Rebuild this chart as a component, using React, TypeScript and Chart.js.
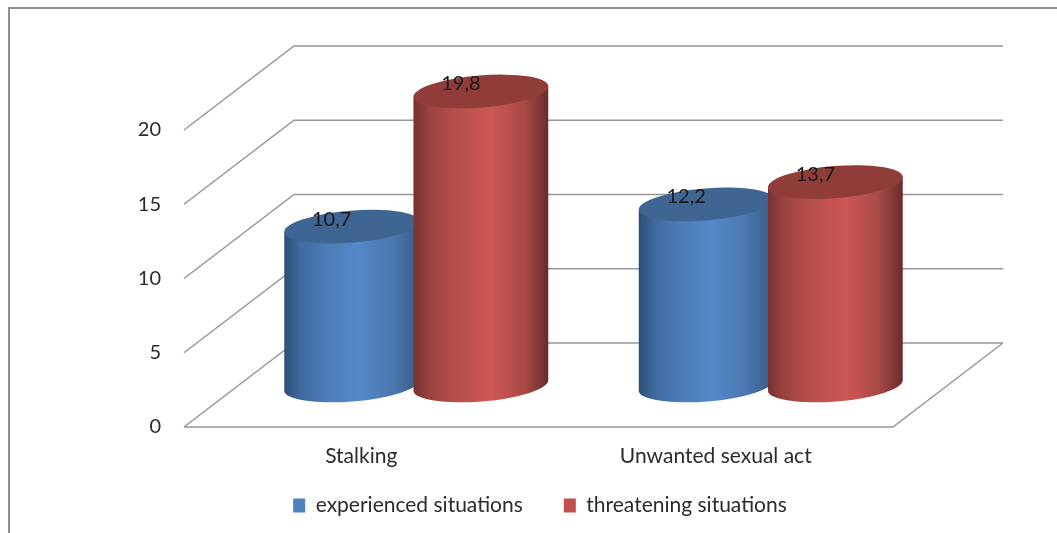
import React, { useEffect, useRef } from "react";
import { Chart, registerables, BarController, BarElement } from "chart.js";

const categories = ["Stalking", "Unwanted sexual act"];
const seriesNames = ["experienced situations", "threatening situations"];
const experienced = [10.7, 12.2];
const threatening = [19.8, 13.7];
const seriesColors = ["#4f81bd", "#c0504d"];
const FONT = "Lato, 'Open Sans', sans-serif";

const DEPTH_X = 110;
const DEPTH_Y = 84;
const GRID = "#979797";
const TEXT = "#2b2b2b";

const shades: Record<string, { stops: [number, string][]; top: string }> = {
  "#4f81bd": {
    stops: [
      [0, "#2d4f78"],
      [0.12, "#3f6a9e"],
      [0.3, "#4c7cb6"],
      [0.55, "#5488ca"],
      [0.8, "#4a78b0"],
      [0.95, "#3c628f"],
      [1, "#34557d"],
    ],
    top: "#3f6592",
  },
  "#c0504d": {
    stops: [
      [0, "#773230"],
      [0.12, "#9a4341"],
      [0.3, "#b64e4b"],
      [0.58, "#cd5755"],
      [0.82, "#a84a47"],
      [0.95, "#7c3432"],
      [1, "#652b29"],
    ],
    top: "#903d3a",
  },
};

class CylinderElement extends BarElement {
  static id = "cylinder";
  draw(ctx: CanvasRenderingContext2D) {
    const { x, y, base, width } = (this as any).getProps(["x", "y", "base", "width"]);
    const style = shades[(this as any).options.backgroundColor];
    const cx = x + DEPTH_X / 2;
    const topY = y - DEPTH_Y / 2 + 0.5;
    const baseY = base - DEPTH_Y / 2 + 0.5;
    const a = width / 2 + 3;
    const b = 16;
    const tilt = (-4.6 * Math.PI) / 180;
    const ex = a * Math.cos(tilt);
    const ey = a * Math.sin(tilt);
    const grad = ctx.createLinearGradient(cx - a, 0, cx + a, 0);
    style.stops.forEach(([p, c]) => grad.addColorStop(p, c));
    ctx.save();
    ctx.beginPath();
    ctx.moveTo(cx - ex, topY - ey);
    ctx.lineTo(cx - ex, baseY - ey);
    ctx.ellipse(cx, baseY, a, b, tilt, Math.PI, 0, true);
    ctx.lineTo(cx + ex, topY + ey);
    ctx.closePath();
    ctx.fillStyle = grad;
    ctx.fill();
    ctx.beginPath();
    ctx.ellipse(cx, topY, a, b, tilt, 0, Math.PI * 2);
    ctx.fillStyle = style.top;
    ctx.fill();
    ctx.restore();
  }
}

class CylinderController extends BarController {
  static id = "cylinderBar";
  static defaults = { ...BarController.defaults, dataElementType: "cylinder" };
  static overrides = BarController.overrides;
}

Chart.register(...registerables, CylinderElement, CylinderController);

const scenePlugin = {
  id: "scene",
  afterLayout(chart: any) {
    const lg = chart.legend;
    if (!lg) return;
    const d = 540 - (lg.left + lg.right) / 2;
    lg.left += d;
    lg.right += d;
    lg.top = 504 - 41 - 12 + 3;
  },
  beforeDraw(chart: any) {
    const { ctx, width, height } = chart;
    ctx.save();
    ctx.fillStyle = "#ffffff";
    ctx.fillRect(0, 0, width, height);
    ctx.strokeStyle = "#8f8f8f";
    ctx.lineWidth = 2;
    ctx.beginPath();
    ctx.moveTo(9, height);
    ctx.lineTo(9, 8);
    ctx.lineTo(width, 8);
    ctx.stroke();
    ctx.restore();
  },
  beforeDatasetsDraw(chart: any) {
    const { ctx, chartArea, scales } = chart;
    const yS = scales.y;
    ctx.save();
    ctx.strokeStyle = GRID;
    ctx.lineWidth = 1.5;
    yS.ticks.forEach((t: any) => {
      const py = yS.getPixelForValue(t.value);
      ctx.beginPath();
      ctx.moveTo(chartArea.left, py);
      ctx.lineTo(chartArea.left + DEPTH_X, py - DEPTH_Y);
      ctx.lineTo(chartArea.right + DEPTH_X, py - DEPTH_Y);
      ctx.stroke();
    });
    const p0 = yS.getPixelForValue(0);
    ctx.beginPath();
    ctx.moveTo(chartArea.left, p0);
    ctx.lineTo(chartArea.right, p0);
    ctx.lineTo(chartArea.right + DEPTH_X, p0 - DEPTH_Y);
    ctx.stroke();
    ctx.restore();
    chart.data.datasets.forEach((_: any, i: number) => chart.getDatasetMeta(i).controller.draw());
    return false;
  },
  afterDraw(chart: any) {
    const { ctx } = chart;
    ctx.save();
    ctx.font = `20px ${FONT}`;
    ctx.fillStyle = "#1a1a1a";
    ctx.textAlign = "center";
    ctx.textBaseline = "middle";
    chart.data.datasets.forEach((ds: any, i: number) => {
      chart.getDatasetMeta(i).data.forEach((el: any, j: number) => {
        const label = Number(ds.data[j]).toFixed(1).replace(".", ",");
        ctx.fillText(label, el.x + DEPTH_X / 2 - 20, el.y - DEPTH_Y / 2 - 7);
      });
    });
    ctx.restore();
  },
};

export default function App() {
  const ref = useRef<HTMLCanvasElement>(null);
  useEffect(() => {
    const chart = new Chart(ref.current as HTMLCanvasElement, {
      type: "cylinderBar" as any,
      data: {
        labels: categories,
        datasets: [
          { label: seriesNames[0], data: experienced, backgroundColor: seriesColors[0], borderWidth: 0 },
          { label: seriesNames[1], data: threatening, backgroundColor: seriesColors[1], borderWidth: 0 },
        ],
      },
      options: {
        animation: false,
        responsive: false,
        datasets: { cylinderBar: { categoryPercentage: 0.729, barPercentage: 1 } } as any,
        layout: { padding: { top: 130, left: 124, right: 164, bottom: -11 } },
        plugins: {
          title: { display: false },
          tooltip: { enabled: false },
          legend: {
            position: "bottom",
            labels: {
              boxWidth: 12,
              boxHeight: 14,
              padding: 41,
              color: TEXT,
              font: { family: FONT, size: 21 },
            },
          },
        },
        scales: {
          x: {
            type: "category",
            offset: true,
            grid: { display: false, drawTicks: false },
            border: { display: false },
            ticks: { color: TEXT, font: { family: FONT, size: 21 }, padding: 17, maxRotation: 0 },
            afterFit: (s: any) => {
              s.height = 45;
            },
          },
          y: {
            type: "linear",
            min: 0,
            max: 20,
            grid: { display: false, drawTicks: false },
            border: { display: false },
            ticks: { stepSize: 5, color: TEXT, font: { family: FONT, size: 20 }, padding: 23 },
            afterFit: (s: any) => {
              s.width = 60;
            },
          },
        },
      },
      plugins: [scenePlugin],
    } as any);
    return () => chart.destroy();
  }, []);
  return (
    <canvas
      ref={ref}
      width={1057}
      height={533}
      style={{ position: "absolute", left: 0, top: 0, display: "block" }}
    />
  );
}
